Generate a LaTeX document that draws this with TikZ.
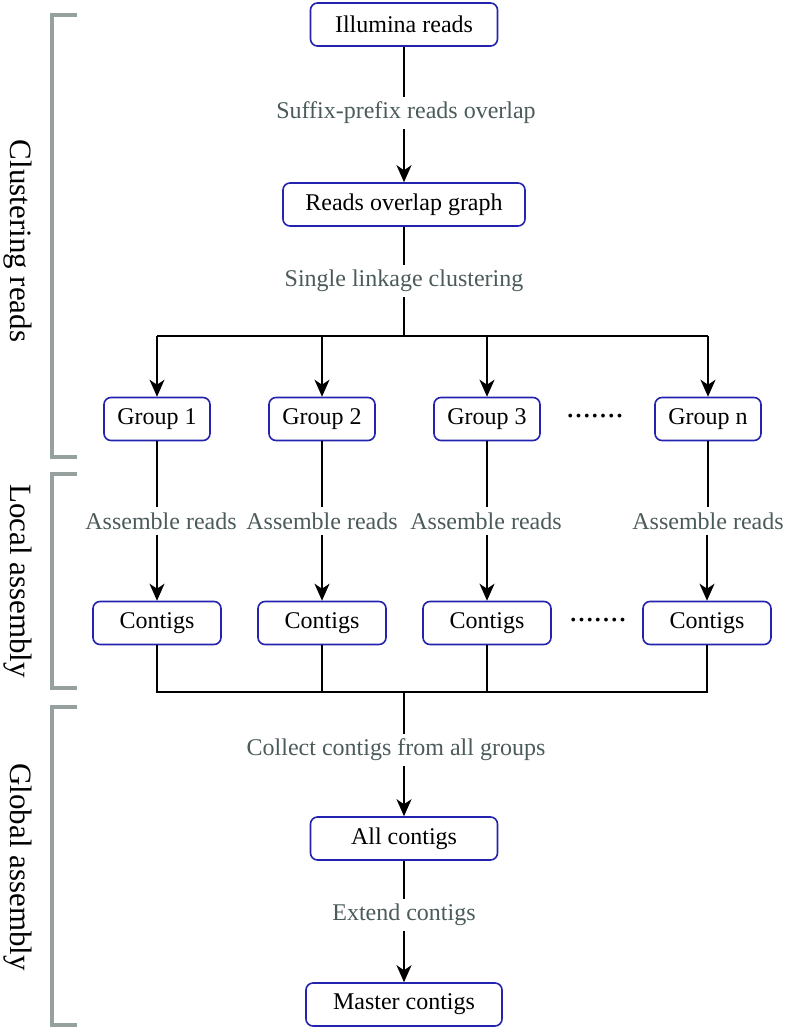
\documentclass[tikz,border=0pt]{standalone}
\usepackage{fontspec}
\setmainfont{Liberation Serif}
\usetikzlibrary{arrows.meta}
\definecolor{boxblue}{RGB}{35,35,175}
\definecolor{labgray}{RGB}{75,90,90}
\definecolor{brgray}{RGB}{150,160,158}
\begin{document}
\begin{tikzpicture}[x=1pt,y=-1pt,
  every node/.style={font=\fontsize{24}{28}\selectfont},
  box/.style={draw=boxblue,line width=1.6pt,rounded corners=7pt,fill=white,
    minimum height=43pt,inner xsep=0pt,inner ysep=0pt,text=black},
  lab/.style={text=labgray,inner sep=5pt},
  side/.style={font=\fontsize{31}{36}\selectfont,rotate=-90,text=black},
  con/.style={line width=1.6pt,black},
  arr/.style={con,-{Stealth[length=17pt,width=15pt,inset=5pt]}},
  brk/.style={draw=brgray,line width=3.5pt},
  dotrow/.style={inner sep=0pt,font=\fontsize{32}{34}\selectfont}]
\useasboundingbox (0,0) rectangle (787,1028);
% boxes
\node[box,minimum width=187pt] (ill) at (404,24.5) {Illumina reads};
\node[box,minimum width=242pt] (rog) at (404,204.5) {Reads overlap graph};
\node[box,minimum width=106pt] (g1) at (157,419) {Group 1};
\node[box,minimum width=106pt] (g2) at (322,419) {Group 2};
\node[box,minimum width=106pt] (g3) at (487,419) {Group 3};
\node[box,minimum width=106pt] (gn) at (708,419) {Group n};
\node[box,minimum width=128pt] (c1) at (157,623) {Contigs};
\node[box,minimum width=128pt] (c2) at (322,623) {Contigs};
\node[box,minimum width=128pt] (c3) at (487,623) {Contigs};
\node[box,minimum width=128pt] (cn) at (707,623) {Contigs};
\node[box,minimum width=187pt] (all) at (404,838.5) {All contigs};
\node[box,minimum width=196pt] (mas) at (404,1004.5) {Master contigs};
% dots
\node[dotrow] (d1) at (595,416) {\foreach \i in {1,...,7}{\makebox[8.2pt]{.}}};
\node[dotrow] (d2) at (598,620) {\foreach \i in {1,...,7}{\makebox[8.2pt]{.}}};
% labels
\node[lab] (l1) at (406,113) {Suffix-prefix reads overlap};
\node[lab] (l2) at (404,281) {Single linkage clustering};
\node[lab] (a1) at (161,521) {Assemble reads};
\node[lab] (a2) at (322,521) {Assemble reads};
\node[lab] (a3) at (486,521) {Assemble reads};
\node[lab] (an) at (708,521) {Assemble reads};
\node[lab] (l3) at (396,750) {Collect contigs from all groups};
\node[lab] (l4) at (404,915) {Extend contigs};
% junctions
\coordinate (j1) at (404,336);
\coordinate (j2) at (404,692);
% connectors
\draw[con] (ill.south) -- (ill.south |- l1.north);
\draw[arr] (rog.north |- l1.south) -- (rog.north);
\draw[con] (rog.south) -- (rog.south |- l2.north);
\draw[con] (rog.south |- l2.south) -- (j1);
\draw[con] (g1.north |- j1) -- (gn.north |- j1);
\foreach \g in {g1,g2,g3,gn}{\draw[arr] (\g.north |- j1) -- (\g.north);}
\draw[con] (g1.south) -- (g1.south |- a1.north);
\draw[con] (g2.south) -- (g2.south |- a2.north);
\draw[con] (g3.south) -- (g3.south |- a3.north);
\draw[con] (gn.south) -- (gn.south |- an.north);
\draw[arr] (c1.north |- a1.south) -- (c1.north);
\draw[arr] (c2.north |- a2.south) -- (c2.north);
\draw[arr] (c3.north |- a3.south) -- (c3.north);
\draw[arr] (cn.north |- an.south) -- (cn.north);
\draw[con] (c1.south) -- (c1.south |- j2) -- (cn.south |- j2) -- (cn.south);
\draw[con] (c2.south) -- (c2.south |- j2);
\draw[con] (c3.south) -- (c3.south |- j2);
\draw[con] (j2) -- (j2 |- l3.north);
\draw[arr] (all.north |- l3.south) -- (all.north);
\draw[con] (all.south) -- (all.south |- l4.north);
\draw[arr] (mas.north |- l4.south) -- (mas.north);
% brackets
\draw[brk] (77,15) -- (52,15) -- (52,457) -- (77,457);
\draw[brk] (77,474) -- (52,474) -- (52,688) -- (77,688);
\draw[brk] (77,707) -- (52,707) -- (52,1025) -- (77,1025);
\node[side] (s1) at (18,241) {Clustering reads};
\node[side] (s2) at (18,581) {Local assembly};
\node[side] (s3) at (18,867) {Global assembly};
\end{tikzpicture}
\end{document}
